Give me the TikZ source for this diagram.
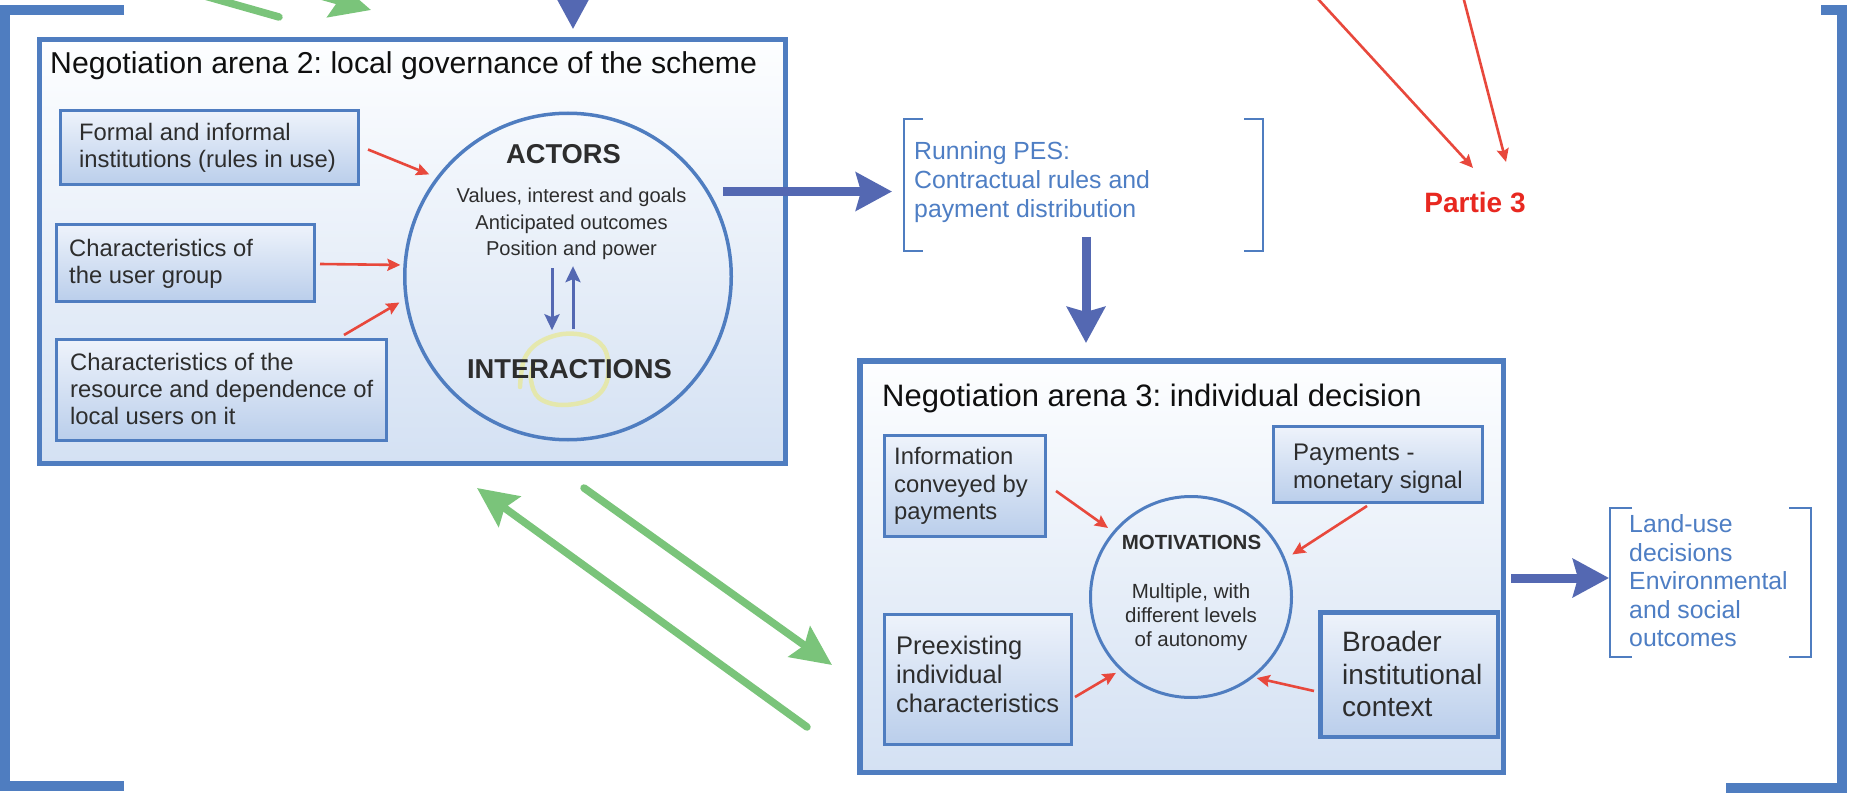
\documentclass[tikz,border=0pt]{standalone}
\usepackage{fontspec}
\setmainfont{Liberation Sans}
\frenchspacing
\usetikzlibrary{arrows.meta}
\definecolor{bxblue}{RGB}{79,125,192}
\definecolor{arrblue}{RGB}{84,104,178}
\definecolor{arrred}{RGB}{232,72,60}
\definecolor{arrgreen}{RGB}{122,196,122}
\definecolor{partred}{RGB}{232,40,32}
\definecolor{brtext}{RGB}{78,126,196}
\definecolor{txtdark}{RGB}{45,45,45}
\definecolor{titletxt}{RGB}{15,15,15}
\definecolor{arenatop}{RGB}{253,254,255}
\definecolor{arenabot}{RGB}{212,225,243}
\definecolor{iboxtop}{RGB}{238,243,251}
\definecolor{iboxbot}{RGB}{186,206,235}
\definecolor{hilite}{RGB}{232,232,150}
\newcommand\fsTitleA{\fontsize{30.2pt}{34pt}\selectfont}
\newcommand\fsTitleB{\fontsize{31pt}{35pt}\selectfont}
\newcommand\fsBox{\fontsize{23.8pt}{27pt}\selectfont}
\newcommand\fsInfo{\fontsize{23.8pt}{27.5pt}\selectfont}
\newcommand\fsPay{\fontsize{24pt}{28pt}\selectfont}
\newcommand\fsPre{\fontsize{25.5pt}{29pt}\selectfont}
\newcommand\fsBroad{\fontsize{28pt}{32.5pt}\selectfont}
\newcommand\fsBig{\bfseries\fontsize{27.3pt}{30pt}\selectfont}
\newcommand\fsCirc{\fontsize{20.1pt}{26.5pt}\selectfont}
\newcommand\fsMot{\bfseries\fontsize{20.5pt}{24pt}\selectfont}
\newcommand\fsMotv{\fontsize{20.5pt}{24pt}\selectfont}
\newcommand\fsPES{\fontsize{24.8pt}{29pt}\selectfont}
\newcommand\fsLU{\fontsize{24.8pt}{28.5pt}\selectfont}
\newcommand\fsPartie{\bfseries\fontsize{28pt}{32pt}\selectfont}
\begin{document}
\begin{tikzpicture}[x=1pt,y=-1pt,
  arenabox/.style={draw=bxblue, line width=5pt, top color=arenatop, bottom color=arenabot, inner sep=0pt},
  ibox/.style={draw=bxblue, line width=3pt, top color=iboxtop, bottom color=iboxbot, inner sep=0pt},
  itext/.style={anchor=west, align=left, inner sep=0pt, text=txtdark},
  ctext/.style={inner sep=0pt, text=txtdark},
  brbox/.style={inner sep=0pt, outer sep=0pt},
  redarr/.style={draw=arrred, line width=2.6pt, -{Stealth[length=13pt,width=12pt,inset=2pt]}},
  bigarr/.style={draw=arrblue, line width=9pt, -{Stealth[length=36pt,width=38pt,inset=5pt]}},
  greenarr/.style={draw=arrgreen, line width=7.5pt, line cap=round, -{Stealth[length=40pt,width=37pt,inset=6pt]}},
  thinarr/.style={draw=arrblue, line width=3pt, -{Stealth[length=16pt,width=15pt,inset=3pt]}},
  brk/.style={draw=bxblue, line width=2.5pt},
  bigbrk/.style={draw=bxblue, line width=10pt}]
\path[use as bounding box] (0,0) rectangle (1849,794);
\clip (0,0) rectangle (1849,794);
\fill[white] (0,0) rectangle (1849,794);

% outer bracket
\draw[bigbrk] (124,10) -- (5,10) -- (5,785.5) -- (124,785.5);
\draw[bigbrk] (1821,10) -- (1842,10) -- (1842,788) -- (1726,788);

% arena 2
\node[arenabox, minimum width=746pt, minimum height=424pt] (arena2) at (412.5,251.5) {};
\node[anchor=base west, font=\fsTitleA, text=titletxt, inner sep=0pt] (t2) at (50,74) {Negotiation arena 2: local governance of the scheme};
\node[ibox, minimum width=298pt, minimum height=74pt] (formal) at (209.5,147.5) {};
\node[itext, font=\fsBox] (formalT) at (79,148.3) {Formal and informal\\institutions (rules in use)};
\node[ibox, minimum width=258pt, minimum height=77pt] (usergrp) at (185.5,263) {};
\node[itext, font=\fsBox] (usergrpT) at (69,263.5) {Characteristics of\\the user group};
\node[ibox, minimum width=330pt, minimum height=101pt] (resource) at (221.5,390) {};
\node[itext, font=\fsBox] (resourceT) at (70,389.3) {Characteristics of the\\resource and dependence of\\local users on it};
\node[circle, draw=bxblue, line width=3.5pt, minimum size=326.5pt, inner sep=0pt] (actc) at (568,276.5) {};
\draw[hilite, line width=4.5pt, opacity=0.75, line cap=round] plot[smooth, tension=0.6] coordinates {(520,387) (524,360) (538,343) (563,334) (590,337) (606,352) (607,381) (592,399) (562,405) (539,398) (531,380) (534,362)};
\node[anchor=base, font=\fsBig, ctext] (actors) at (563.5,164) {ACTORS};
\node[align=center, font=\fsCirc, ctext] (actvals) at (571.5,224.3) {Values, interest and goals\\Anticipated outcomes\\Position and power};
\node[anchor=base, font=\fsBig, ctext] (interact) at (569.5,378) {INTERACTIONS};
\coordinate (dnS) at ([xshift=-19.5pt,yshift=-8pt]actvals.south);
\coordinate (upS) at ([xshift=3.5pt,yshift=29.5pt]interact.north);
\draw[thinarr, shorten >=28.5pt] (dnS) -- (dnS |- interact.north);
\draw[thinarr, shorten >=5.8pt] (upS) -- (upS |- actvals.south);

% red arrows arena 2
\draw[redarr, shorten >=7.5pt] ([xshift=8pt,yshift=-2pt]formal.east) -- (actc.143);
\draw[redarr, shorten >=3pt] ([xshift=4pt,yshift=-1pt]usergrp.east) -- (actc.176);
\draw[redarr, shorten >=6pt] ([xshift=-44pt,yshift=3pt]resource.north east) -- (actc.188);

% running PES bracket
\node[brbox, minimum width=359pt, minimum height=132pt] (pesbr) at (1083.5,185) {};
\draw[brk] ([xshift=19pt]pesbr.north west) -- (pesbr.north west) -- (pesbr.south west) -- ([xshift=19pt]pesbr.south west);
\draw[brk] ([xshift=-19pt]pesbr.north east) -- (pesbr.north east) -- (pesbr.south east) -- ([xshift=-19pt]pesbr.south east);
\node[itext, text=brtext, font=\fsPES] (pesT) at (914,181.7) {Running PES:\\Contractual rules and\\payment distribution};

% arena 3
\node[arenabox, line width=5.5pt, minimum width=643.5pt, minimum height=411.5pt] (arena3) at (1181.5,566.5) {};
\node[anchor=base west, font=\fsTitleB, text=titletxt, inner sep=0pt] (t3) at (882,406) {Negotiation arena 3: individual decision};
\node[ibox, minimum width=161pt, minimum height=101pt] (info) at (965,486) {};
\node[itext, font=\fsInfo] (infoT) at (894,486.3) {Information\\conveyed by\\payments};
\node[ibox, minimum width=209pt, minimum height=76pt] (pay) at (1378,464.5) {};
\node[itext, font=\fsPay] (payT) at (1293,469) {Payments -\\monetary signal};
\node[ibox, minimum width=187pt, minimum height=130pt] (pre) at (978,679.5) {};
\node[itext, font=\fsPre] (preT) at (896,674.7) {Preexisting\\individual\\characteristics};
\node[ibox, line width=4.5pt, minimum width=177.5pt, minimum height=124.5pt] (broad) at (1409,674.5) {};
\node[itext, font=\fsBroad] (broadT) at (1342,674.3) {Broader\\institutional\\context};
\node[circle, draw=bxblue, line width=3pt, minimum size=201pt, inner sep=0pt] (motc) at (1191,597) {};
\node[anchor=base, font=\fsMot, ctext] (mot) at (1191.5,549) {MOTIVATIONS};
\node[align=center, font=\fsMotv, ctext] (motv) at (1191,616.7) {Multiple, with\\different levels\\of autonomy};

% red arrows arena 3
\draw[redarr, shorten >=6pt] ([xshift=9pt,yshift=-5pt]info.east) -- (motc.140);
\draw[redarr, shorten >=8pt] ([xshift=-11pt,yshift=-2pt]pay.south) -- (motc.22);
\draw[redarr, shorten >=5pt] ([xshift=2pt,yshift=-17.5pt]pre.east) -- (motc.226);
\draw[redarr, shorten >=3pt] ([xshift=-4pt,yshift=-16.5pt]broad.west) -- (motc.308);

% land-use bracket
\node[brbox, minimum width=201pt, minimum height=149pt] (lubr) at (1710.5,582.5) {};
\draw[brk] ([xshift=22pt]lubr.north west) -- (lubr.north west) -- (lubr.south west) -- ([xshift=22pt]lubr.south west);
\draw[brk] ([xshift=-22pt]lubr.north east) -- (lubr.north east) -- (lubr.south east) -- ([xshift=-22pt]lubr.south east);
\node[itext, text=brtext, font=\fsLU] (luT) at (1629,581) {Land-use\\decisions\\Environmental\\and social\\outcomes};

% Partie 3
\node[anchor=base, font=\fsPartie, text=partred, inner sep=0pt] (partie) at (1475,213) {Partie 3};
\coordinate (psrcA) at (1273,-50);
\coordinate (psrcB) at (1451,-50);
\draw[redarr] (psrcA) -- ([xshift=-2pt,yshift=24.6pt]partie.north);
\draw[redarr] (psrcB) -- ([xshift=31pt,yshift=30.6pt]partie.north);

% big blue arrows
\draw[bigarr, shorten <=13.6pt, shorten >=12pt] (actc.31) -- (actc.31 -| pesbr.west);
\coordinate (pesdn) at ([xshift=2.5pt,yshift=14pt]pesbr.south);
\draw[bigarr, shorten >=15pt] (pesdn) -- (pesdn |- arena3.north);
\coordinate (a3out) at ([yshift=-11.5pt]arena3.east);
\draw[bigarr, shorten <=5pt, shorten >=1pt] (a3out) -- (a3out -| lubr.west);
\coordinate (topsrc) at (573,-80);
\draw[bigarr, shorten >=8pt] (topsrc) -- (topsrc |- arena2.north);

% green arrows
\draw[greenarr] ([xshift=-50pt,yshift=-160.5pt]arena3.west) -- ([xshift=64.5pt,yshift=-22pt]arena2.south);
\draw[greenarr] ([xshift=171.5pt,yshift=-22pt]arena2.south) -- ([xshift=-25pt,yshift=-98.5pt]arena3.west);
\coordinate (gsrcA) at (246,-25);
\draw[greenarr] (gsrcA) -- ([xshift=-41.5pt,yshift=27pt]arena2.north);
\coordinate (gdstB) at (60,-45);
\draw[greenarr] ([xshift=-133.5pt,yshift=20pt]arena2.north) -- (gdstB);
\end{tikzpicture}
\end{document}
